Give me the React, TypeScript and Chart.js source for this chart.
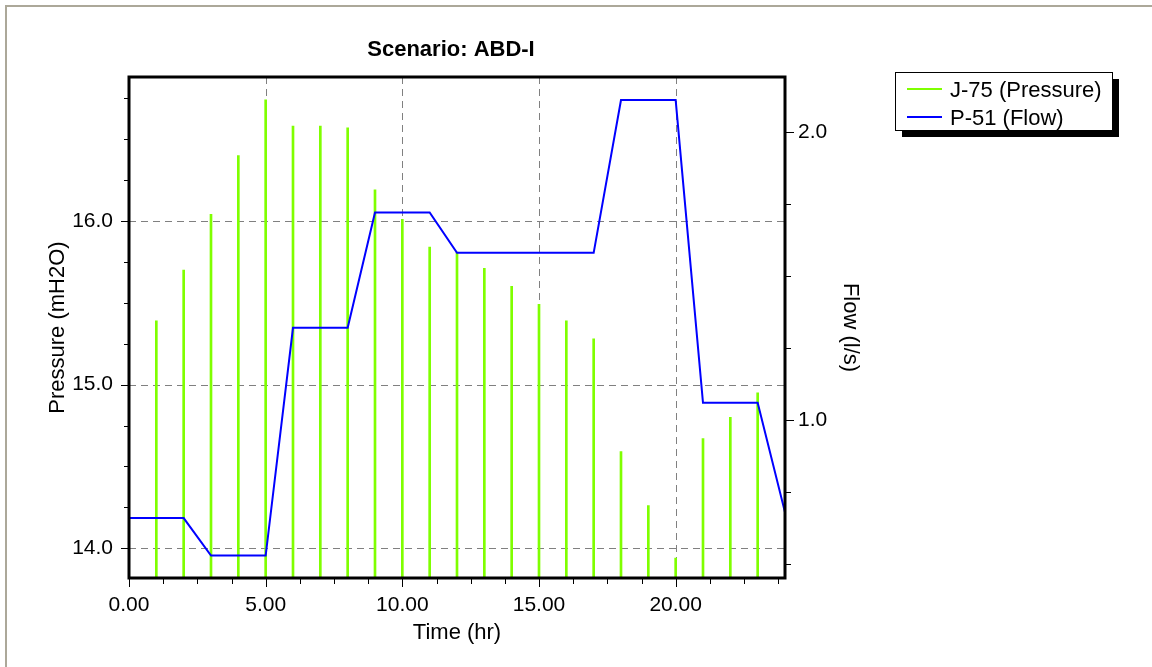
import React, { useEffect, useRef } from "react";
import { Chart, registerables } from "chart.js";

Chart.register(...registerables);

// ---------- data ----------
const TITLE = "Scenario: ABD-I";
const X_TITLE = "Time (hr)";
const Y_TITLE = "Pressure (mH2O)";
const Y1_TITLE = "Flow (l/s)";
const PRESSURE_LABEL = "J-75 (Pressure)";
const FLOW_LABEL = "P-51 (Flow)";

const pressureHours = [1, 2, 3, 4, 5, 6, 7, 8, 9, 10, 11, 12, 13, 14, 15, 16, 17, 18, 19, 20, 21, 22, 23];
const pressureValues = [15.39, 15.7, 16.04, 16.4, 16.74, 16.58, 16.58, 16.57, 16.19, 16.01, 15.84, 15.81, 15.71, 15.6, 15.49, 15.39, 15.28, 14.59, 14.26, 13.94, 14.67, 14.8, 14.95];

const flowHours = [0, 1, 2, 3, 4, 5, 6, 7, 8, 9, 10, 11, 12, 13, 14, 15, 16, 17, 18, 19, 20, 21, 22, 23, 24];
const flowValues = [0.66, 0.66, 0.66, 0.53, 0.53, 0.53, 1.32, 1.32, 1.32, 1.72, 1.72, 1.72, 1.58, 1.58, 1.58, 1.58, 1.58, 1.58, 2.11, 2.11, 2.11, 1.06, 1.06, 1.06, 0.68];

const X_MIN = 0;
const X_MAX = 24;
const X_STEP = 1.25;
const X_MAJOR = 5;
const P_MIN = 13.818;
const P_MAX = 16.88;
const P_STEP = 0.25;
const F_MIN = 0.452;
const F_MAX = 2.19;
const F_STEP = 0.25;

const GREEN = "#7fff00";
const BLUE = "#0000ff";
const FONT = '"Liberation Sans", Arial, sans-serif';

const isMajorX = (v: number) => Math.abs(v / X_MAJOR - Math.round(v / X_MAJOR)) < 1e-6;
const isInt = (v: number) => Math.abs(v - Math.round(v)) < 1e-6;

const decorPlugin = {
  id: "decor",
  beforeDraw(chart: any) {
    const ctx = chart.ctx;
    ctx.save();
    ctx.fillStyle = "#ffffff";
    ctx.fillRect(0, 0, chart.width, chart.height);
    ctx.strokeStyle = "#aca899";
    ctx.lineWidth = 2;
    ctx.beginPath();
    ctx.moveTo(6, chart.height);
    ctx.lineTo(6, 6);
    ctx.lineTo(chart.width, 6);
    ctx.stroke();
    ctx.restore();
  },
  beforeDatasetsDraw(chart: any) {
    const { ctx, chartArea: a, scales } = chart;
    ctx.save();
    ctx.strokeStyle = "#808080";
    ctx.lineWidth = 1;
    ctx.setLineDash([7, 5]);
    for (const t of scales.x.ticks) {
      const v = t.value;
      if (!isMajorX(v) || v <= X_MIN || v >= X_MAX) continue;
      const px = Math.round(scales.x.getPixelForValue(v)) + 0.5;
      ctx.beginPath();
      ctx.moveTo(px, a.top);
      ctx.lineTo(px, a.bottom);
      ctx.stroke();
    }
    for (const t of scales.y.ticks) {
      const v = t.value;
      if (!isInt(v)) continue;
      const py = Math.round(scales.y.getPixelForValue(v)) + 0.5;
      ctx.beginPath();
      ctx.moveTo(a.left, py);
      ctx.lineTo(a.right, py);
      ctx.stroke();
    }
    ctx.restore();
  },
  afterDatasetsDraw(chart: any) {
    const { ctx, chartArea: a, scales } = chart;
    ctx.save();
    // tick marks
    ctx.strokeStyle = "#000000";
    ctx.lineWidth = 1;
    for (const t of scales.x.ticks) {
      const px = Math.round(scales.x.getPixelForValue(t.value)) + 0.5;
      const len = isMajorX(t.value) ? 9 : 6;
      ctx.beginPath();
      ctx.moveTo(px, a.bottom);
      ctx.lineTo(px, a.bottom + len);
      ctx.stroke();
    }
    for (const t of scales.y.ticks) {
      const py = Math.round(scales.y.getPixelForValue(t.value)) + 0.5;
      const len = isInt(t.value) ? 8 : 5;
      ctx.beginPath();
      ctx.moveTo(a.left, py);
      ctx.lineTo(a.left - len, py);
      ctx.stroke();
    }
    for (const t of scales.y1.ticks) {
      const py = Math.round(scales.y1.getPixelForValue(t.value)) + 0.5;
      const len = isInt(t.value) ? 9 : 6;
      ctx.beginPath();
      ctx.moveTo(a.right, py);
      ctx.lineTo(a.right + len, py);
      ctx.stroke();
    }
    // frame
    ctx.lineWidth = 3;
    ctx.strokeRect(a.left, a.top, a.right - a.left, a.bottom - a.top);

    // title
    ctx.fillStyle = "#000000";
    ctx.font = `bold 22px ${FONT}`;
    ctx.textAlign = "center";
    ctx.textBaseline = "alphabetic";
    ctx.fillText(TITLE, 451, 56);

    // legend
    const lx = 895, ly = 72, lw = 217, lh = 58;
    ctx.fillStyle = "#000000";
    ctx.fillRect(lx + 7, ly + 7, lw, lh);
    ctx.fillStyle = "#ffffff";
    ctx.fillRect(lx, ly, lw, lh);
    ctx.strokeStyle = "#000000";
    ctx.lineWidth = 1;
    ctx.strokeRect(lx + 0.5, ly + 0.5, lw, lh);
    const rows = [
      { label: PRESSURE_LABEL, color: GREEN, y: 89 },
      { label: FLOW_LABEL, color: BLUE, y: 117 },
    ];
    ctx.font = `22px ${FONT}`;
    ctx.textAlign = "left";
    for (const r of rows) {
      ctx.strokeStyle = r.color;
      ctx.lineWidth = 2;
      ctx.beginPath();
      ctx.moveTo(907, r.y);
      ctx.lineTo(942, r.y);
      ctx.stroke();
      ctx.fillStyle = "#000000";
      ctx.fillText(r.label, 950, r.y + 8);
    }
    ctx.restore();
  },
};

export default function App() {
  const canvasRef = useRef<HTMLCanvasElement | null>(null);

  useEffect(() => {
    const canvas = canvasRef.current;
    if (!canvas) return;
    const tickFont = { family: FONT, size: 21 };
    const titleFont = { family: FONT, size: 22 };
    const chart = new Chart(canvas, {
      type: "bar",
      data: {
        datasets: [
          {
            type: "bar",
            label: PRESSURE_LABEL,
            data: pressureHours.map((h, i) => ({ x: h, y: pressureValues[i] })),
            backgroundColor: GREEN,
            borderWidth: 0,
            barThickness: 2,
            yAxisID: "y",
            order: 2,
          } as any,
          {
            type: "line",
            label: FLOW_LABEL,
            data: flowHours.map((h, i) => ({ x: h, y: flowValues[i] })),
            borderColor: BLUE,
            backgroundColor: BLUE,
            borderWidth: 2,
            pointRadius: 0,
            tension: 0,
            yAxisID: "y1",
            order: 1,
          } as any,
        ],
      },
      options: {
        animation: false,
        responsive: false,
        devicePixelRatio: 1,
        layout: { padding: { left: 0, top: 77, right: 267, bottom: 0 } },
        plugins: {
          legend: { display: false },
          title: { display: false },
          tooltip: { enabled: false },
        },
        scales: {
          x: {
            type: "linear",
            min: X_MIN,
            max: X_MAX,
            offset: false,
            grid: { display: false, drawTicks: false, offset: false },
            border: { display: false },
            ticks: {
              stepSize: X_STEP,
              includeBounds: false,
              autoSkip: false,
              maxRotation: 0,
              padding: 15,
              color: "#000000",
              font: tickFont,
              callback: (v: any) => (isMajorX(Number(v)) ? Number(v).toFixed(2) : ""),
            },
            title: {
              display: true,
              text: X_TITLE,
              color: "#000000",
              font: titleFont,
              padding: { top: 0, bottom: 21 },
            },
            afterFit: (s: any) => {
              s.height = 89;
            },
          },
          y: {
            type: "linear",
            position: "left",
            min: P_MIN,
            max: P_MAX,
            grid: { display: false, drawTicks: false },
            border: { display: false },
            ticks: {
              stepSize: P_STEP,
              includeBounds: false,
              autoSkip: false,
              padding: 16,
              color: "#000000",
              font: tickFont,
              callback: (v: any) => (isInt(Number(v)) ? Number(v).toFixed(1) : ""),
            },
            title: {
              display: true,
              text: Y_TITLE,
              color: "#000000",
              font: titleFont,
              padding: { top: 45, bottom: 0 },
            },
            afterFit: (s: any) => {
              s.width = 129;
            },
          },
          y1: {
            type: "linear",
            position: "right",
            min: F_MIN,
            max: F_MAX,
            grid: { display: false, drawTicks: false },
            border: { display: false },
            ticks: {
              stepSize: F_STEP,
              includeBounds: false,
              autoSkip: false,
              padding: 13,
              color: "#000000",
              font: tickFont,
              callback: (v: any) => (isInt(Number(v)) ? Number(v).toFixed(1) : ""),
            },
            title: {
              display: true,
              text: Y1_TITLE,
              color: "#000000",
              font: titleFont,
              padding: { top: 22, bottom: 0 },
            },
            afterFit: (s: any) => {
              s.width = 100;
            },
          },
        },
      } as any,
      plugins: [decorPlugin as any],
    });
    return () => chart.destroy();
  }, []);

  return (
    <div style={{ position: "absolute", left: 0, top: 0, width: 1152, height: 667, background: "#ffffff" }}>
      <canvas ref={canvasRef} width={1152} height={667} style={{ display: "block", width: 1152, height: 667 }} />
    </div>
  );
}
